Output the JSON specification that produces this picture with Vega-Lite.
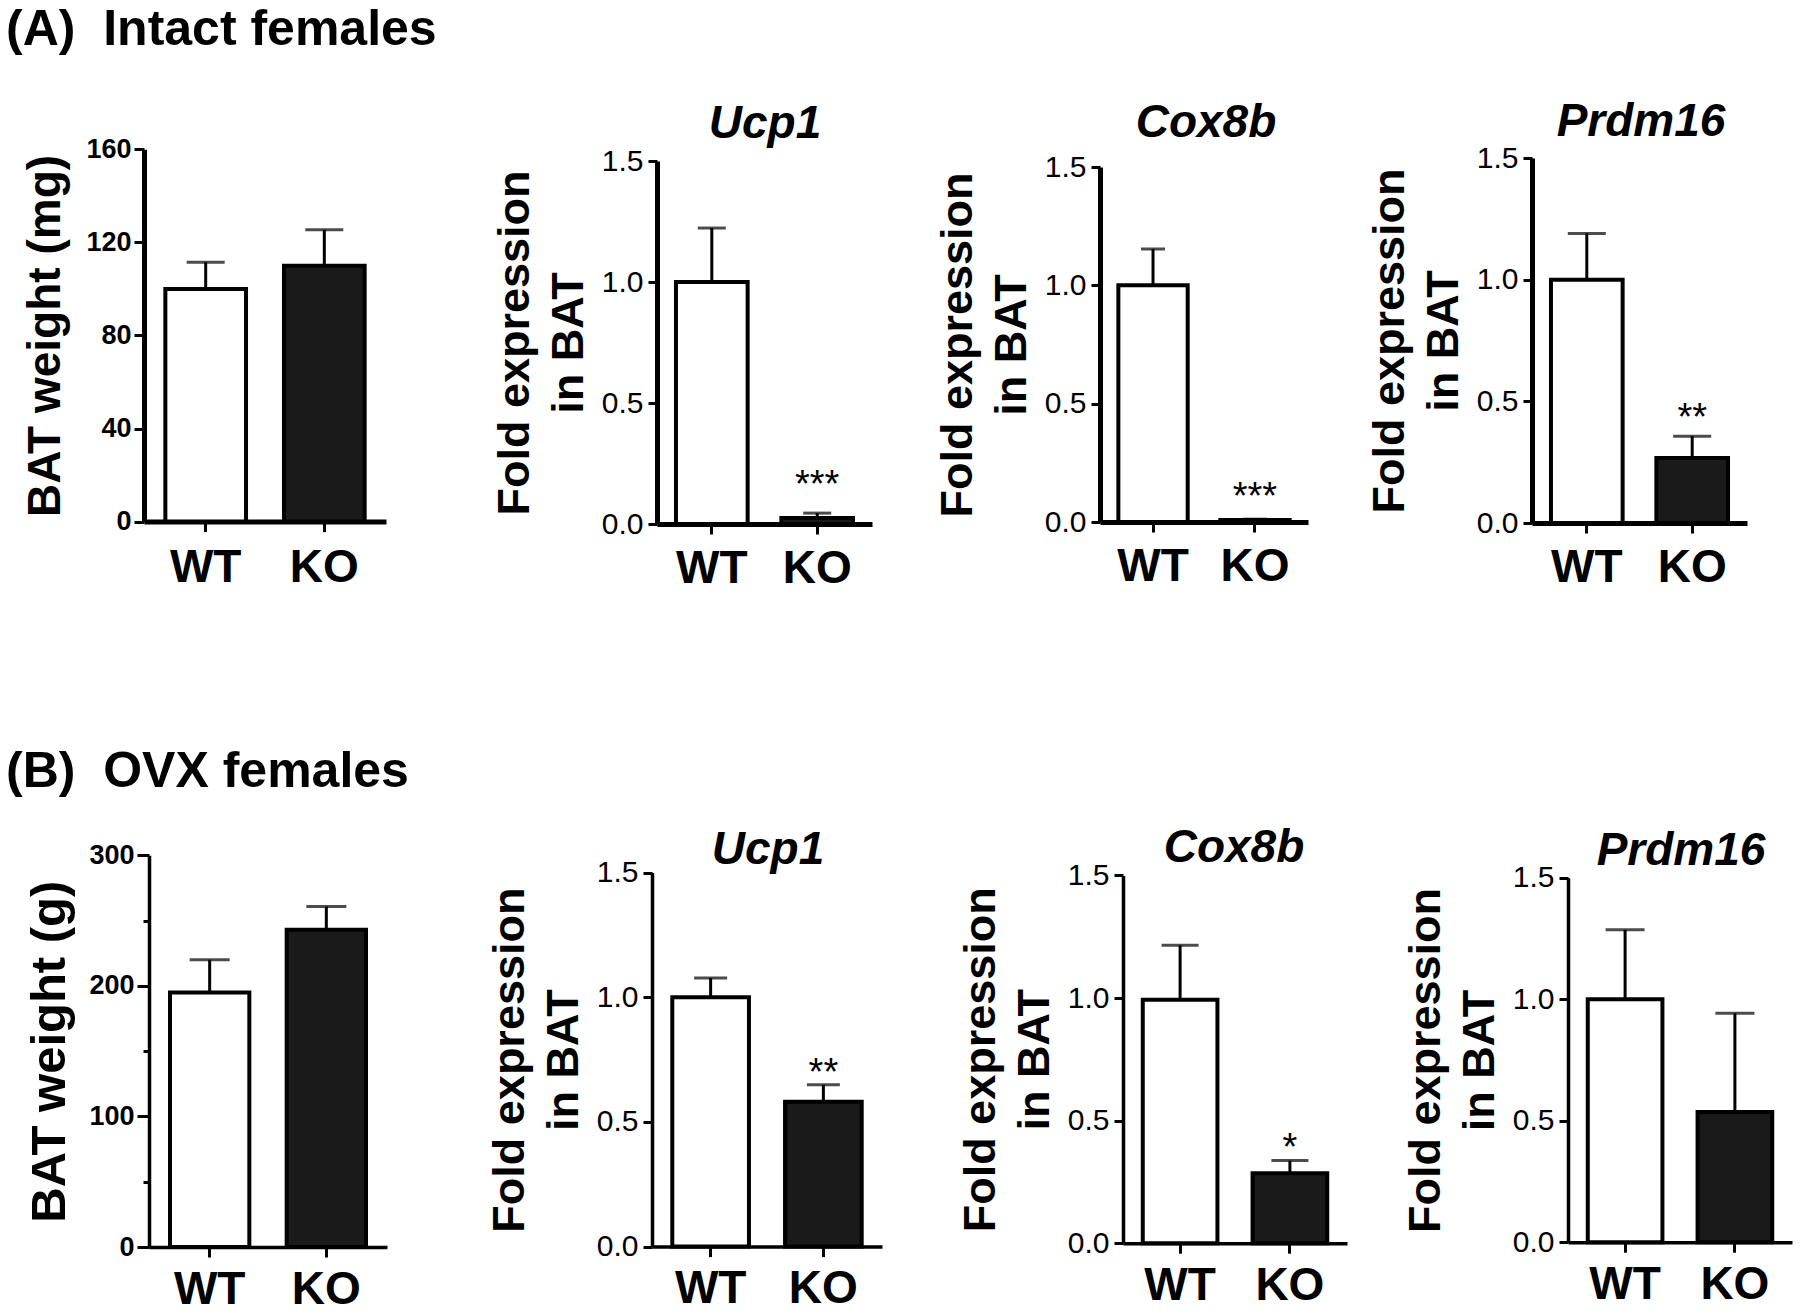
{
  "$schema": "https://vega.github.io/schema/vega-lite/v6.json",
  "background": "white",
  "padding": 0,
  "columns": 4,
  "spacing": 0,
  "bounds": "flush",
  "datasets": {
    "d": [
      {"panel": "A1", "group": "WT", "mean": 100, "upper": 111.5, "sig": ""},
      {"panel": "A1", "group": "KO", "mean": 110, "upper": 125.4, "sig": ""},
      {"panel": "A2", "group": "WT", "mean": 1.0, "upper": 1.223, "sig": ""},
      {"panel": "A2", "group": "KO", "mean": 0.025, "upper": 0.045, "sig": "***"},
      {"panel": "A3", "group": "WT", "mean": 1.0, "upper": 1.153, "sig": ""},
      {"panel": "A3", "group": "KO", "mean": 0.008, "upper": 0.012, "sig": "***"},
      {"panel": "A4", "group": "WT", "mean": 1.0, "upper": 1.19, "sig": ""},
      {"panel": "A4", "group": "KO", "mean": 0.267, "upper": 0.357, "sig": "**"},
      {"panel": "B1", "group": "WT", "mean": 195, "upper": 220, "sig": ""},
      {"panel": "B1", "group": "KO", "mean": 243, "upper": 260.7, "sig": ""},
      {"panel": "B2", "group": "WT", "mean": 1.0, "upper": 1.077, "sig": ""},
      {"panel": "B2", "group": "KO", "mean": 0.581, "upper": 0.649, "sig": "**"},
      {"panel": "B3", "group": "WT", "mean": 0.993, "upper": 1.215, "sig": ""},
      {"panel": "B3", "group": "KO", "mean": 0.285, "upper": 0.337, "sig": "*"},
      {"panel": "B4", "group": "WT", "mean": 1.0, "upper": 1.286, "sig": ""},
      {"panel": "B4", "group": "KO", "mean": 0.536, "upper": 0.942, "sig": ""}
    ]
  },
  "concat": [
    {
      "width": 450, "height": 657,
      "title": {"text": "(A)\u00a0\u00a0Intact females", "anchor": "start", "frame": "group", "offset": 0, "dx": 6, "dy": 95, "fontSize": 50, "fontWeight": "bold", "baseline": "alphabetic"},
      "data": {"name": "d"},
      "transform": [{"filter": "datum.panel === 'A1'"}],
      "encoding": {"x": {"field": "group", "type": "nominal", "sort": ["WT", "KO"], "scale": {"type": "band", "domain": ["WT", "KO"], "range": [144, 386], "paddingInner": 0.32, "paddingOuter": 0.18}, "axis": {"title": null, "offset": -135.4, "labelAngle": 0, "labelFontSize": 46, "labelFontWeight": "bold", "labelPadding": 14, "tickSize": 10, "tickWidth": 3, "domainWidth": 5}}},
      "layer": [
        {"mark": {"type": "bar", "stroke": "black", "strokeWidth": 4}, "encoding": {"y": {"field": "mean", "type": "quantitative", "scale": {"domain": [0, 160], "range": [521.6, 149.3], "nice": false}, "axis": {"title": "BAT weight (mg)", "offset": -144, "values": [0, 40, 80, 120, 160], "labelFontSize": 27, "labelFontWeight": "bold", "labelPadding": 3, "tickSize": 10, "tickWidth": 3, "domainWidth": 5, "titleFontSize": 46, "titleFontWeight": "bold", "titlePadding": 16}}, "fill": {"field": "group", "type": "nominal", "scale": {"domain": ["WT", "KO"], "range": ["white", "#1a1a1a"]}, "legend": null}}},
        {"mark": {"type": "rule", "strokeWidth": 3, "color": "black"}, "encoding": {"y": {"field": "mean", "type": "quantitative"}, "y2": {"field": "upper"}}},
        {"mark": {"type": "tick", "orient": "horizontal", "thickness": 3, "size": 38, "color": "black"}, "encoding": {"y": {"field": "upper", "type": "quantitative"}}}
      ]
    },
    {
      "width": 450, "height": 657,
      "title": {"text": "Ucp1", "anchor": "middle", "frame": "group", "offset": 0, "dx": 90, "dy": 184, "fontSize": 46, "fontWeight": "bold", "fontStyle": "italic", "baseline": "alphabetic"},
      "data": {"name": "d"},
      "transform": [{"filter": "datum.panel === 'A2'"}],
      "encoding": {"x": {"field": "group", "type": "nominal", "sort": ["WT", "KO"], "scale": {"type": "band", "domain": ["WT", "KO"], "range": [207, 422], "paddingInner": 0.32, "paddingOuter": 0.18}, "axis": {"title": null, "offset": -133, "labelAngle": 0, "labelFontSize": 46, "labelFontWeight": "bold", "labelPadding": 12, "tickSize": 10, "tickWidth": 3, "domainWidth": 5}}},
      "layer": [
        {"mark": {"type": "bar", "stroke": "black", "strokeWidth": 4}, "encoding": {"y": {"field": "mean", "type": "quantitative", "scale": {"domain": [0, 1.5], "range": [524, 161], "nice": false}, "axis": {"title": ["Fold expression", "in BAT"], "offset": -207, "values": [0, 0.5, 1, 1.5], "format": ".1f", "labelFontSize": 30, "labelPadding": 5, "tickSize": 9, "tickWidth": 3, "domainWidth": 5, "titleFontSize": 45, "titleFontWeight": "bold", "titlePadding": 10, "titleLineHeight": 54}}, "fill": {"field": "group", "type": "nominal", "scale": {"domain": ["WT", "KO"], "range": ["white", "#1a1a1a"]}, "legend": null}}},
        {"mark": {"type": "rule", "strokeWidth": 3, "color": "black"}, "encoding": {"y": {"field": "mean", "type": "quantitative"}, "y2": {"field": "upper"}}},
        {"mark": {"type": "tick", "orient": "horizontal", "thickness": 3, "size": 28, "color": "black"}, "encoding": {"y": {"field": "upper", "type": "quantitative"}}},
        {"transform": [{"filter": "datum.sig !== ''"}], "mark": {"type": "text", "fontSize": 38, "baseline": "alphabetic", "dy": -16, "color": "black"}, "encoding": {"y": {"field": "upper", "type": "quantitative"}, "text": {"field": "sig"}}}
      ]
    },
    {
      "width": 450, "height": 657,
      "title": {"text": "Cox8b", "anchor": "middle", "frame": "group", "offset": 0, "dx": 81, "dy": 183, "fontSize": 46, "fontWeight": "bold", "fontStyle": "italic", "baseline": "alphabetic"},
      "data": {"name": "d"},
      "transform": [{"filter": "datum.panel === 'A3'"}],
      "encoding": {"x": {"field": "group", "type": "nominal", "sort": ["WT", "KO"], "scale": {"type": "band", "domain": ["WT", "KO"], "range": [200, 408], "paddingInner": 0.32, "paddingOuter": 0.18}, "axis": {"title": null, "offset": -135, "labelAngle": 0, "labelFontSize": 46, "labelFontWeight": "bold", "labelPadding": 12, "tickSize": 10, "tickWidth": 3, "domainWidth": 5}}},
      "layer": [
        {"mark": {"type": "bar", "stroke": "black", "strokeWidth": 4}, "encoding": {"y": {"field": "mean", "type": "quantitative", "scale": {"domain": [0, 1.5], "range": [522, 167], "nice": false}, "axis": {"title": ["Fold expression", "in BAT"], "offset": -200, "values": [0, 0.5, 1, 1.5], "format": ".1f", "labelFontSize": 30, "labelPadding": 5, "tickSize": 9, "tickWidth": 3, "domainWidth": 5, "titleFontSize": 45, "titleFontWeight": "bold", "titlePadding": 10, "titleLineHeight": 54}}, "fill": {"field": "group", "type": "nominal", "scale": {"domain": ["WT", "KO"], "range": ["white", "#1a1a1a"]}, "legend": null}}},
        {"mark": {"type": "rule", "strokeWidth": 3, "color": "black"}, "encoding": {"y": {"field": "mean", "type": "quantitative"}, "y2": {"field": "upper"}}},
        {"mark": {"type": "tick", "orient": "horizontal", "thickness": 3, "size": 24, "color": "black"}, "encoding": {"y": {"field": "upper", "type": "quantitative"}}},
        {"transform": [{"filter": "datum.sig !== ''"}], "mark": {"type": "text", "fontSize": 38, "baseline": "alphabetic", "dy": -10, "color": "black"}, "encoding": {"y": {"field": "upper", "type": "quantitative"}, "text": {"field": "sig"}}}
      ]
    },
    {
      "width": 450, "height": 657,
      "title": {"text": "Prdm16", "anchor": "middle", "frame": "group", "offset": 0, "dx": 66, "dy": 182, "fontSize": 46, "fontWeight": "bold", "fontStyle": "italic", "baseline": "alphabetic"},
      "data": {"name": "d"},
      "transform": [{"filter": "datum.panel === 'A4'"}],
      "encoding": {"x": {"field": "group", "type": "nominal", "sort": ["WT", "KO"], "scale": {"type": "band", "domain": ["WT", "KO"], "range": [182, 397], "paddingInner": 0.32, "paddingOuter": 0.18}, "axis": {"title": null, "offset": -134, "labelAngle": 0, "labelFontSize": 46, "labelFontWeight": "bold", "labelPadding": 12, "tickSize": 10, "tickWidth": 3, "domainWidth": 5}}},
      "layer": [
        {"mark": {"type": "bar", "stroke": "black", "strokeWidth": 4}, "encoding": {"y": {"field": "mean", "type": "quantitative", "scale": {"domain": [0, 1.5], "range": [523, 158], "nice": false}, "axis": {"title": ["Fold expression", "in BAT"], "offset": -182, "values": [0, 0.5, 1, 1.5], "format": ".1f", "labelFontSize": 30, "labelPadding": 5, "tickSize": 9, "tickWidth": 3, "domainWidth": 5, "titleFontSize": 45, "titleFontWeight": "bold", "titlePadding": 10, "titleLineHeight": 54}}, "fill": {"field": "group", "type": "nominal", "scale": {"domain": ["WT", "KO"], "range": ["white", "#1a1a1a"]}, "legend": null}}},
        {"mark": {"type": "rule", "strokeWidth": 3, "color": "black"}, "encoding": {"y": {"field": "mean", "type": "quantitative"}, "y2": {"field": "upper"}}},
        {"mark": {"type": "tick", "orient": "horizontal", "thickness": 3, "size": 38, "color": "black"}, "encoding": {"y": {"field": "upper", "type": "quantitative"}}},
        {"transform": [{"filter": "datum.sig !== ''"}], "mark": {"type": "text", "fontSize": 38, "baseline": "alphabetic", "dy": -6, "color": "black"}, "encoding": {"y": {"field": "upper", "type": "quantitative"}, "text": {"field": "sig"}}}
      ]
    },
    {
      "width": 450, "height": 657,
      "title": {"text": "(B)\u00a0\u00a0OVX females", "anchor": "start", "frame": "group", "offset": 0, "dx": 6, "dy": 180, "fontSize": 50, "fontWeight": "bold", "baseline": "alphabetic"},
      "data": {"name": "d"},
      "transform": [{"filter": "datum.panel === 'B1'"}],
      "encoding": {"x": {"field": "group", "type": "nominal", "sort": ["WT", "KO"], "scale": {"type": "band", "domain": ["WT", "KO"], "range": [149, 387], "paddingInner": 0.32, "paddingOuter": 0.18}, "axis": {"title": null, "offset": -67, "labelAngle": 0, "labelFontSize": 46, "labelFontWeight": "bold", "labelPadding": 10, "tickSize": 10, "tickWidth": 3, "domainWidth": 3.5}}},
      "layer": [
        {"mark": {"type": "bar", "stroke": "black", "strokeWidth": 4}, "encoding": {"y": {"field": "mean", "type": "quantitative", "scale": {"domain": [0, 300], "range": [590, 198.3], "nice": false}, "axis": {"title": "BAT weight (g)", "offset": -149, "values": [0, 50, 100, 150, 200, 250, 300], "labelExpr": "datum.value % 100 === 0 ? datum.label : ''", "labelFontSize": 27, "labelFontWeight": "bold", "labelPadding": 3, "tickSize": {"condition": {"test": "datum.value % 100 !== 0", "value": 6}, "value": 12}, "tickWidth": 3, "domainWidth": 3.5, "titleFontSize": 49, "titleFontWeight": "bold", "titlePadding": 14}}, "fill": {"field": "group", "type": "nominal", "scale": {"domain": ["WT", "KO"], "range": ["white", "#1a1a1a"]}, "legend": null}}},
        {"mark": {"type": "rule", "strokeWidth": 3, "color": "black"}, "encoding": {"y": {"field": "mean", "type": "quantitative"}, "y2": {"field": "upper"}}},
        {"mark": {"type": "tick", "orient": "horizontal", "thickness": 3, "size": 40, "color": "black"}, "encoding": {"y": {"field": "upper", "type": "quantitative"}}}
      ]
    },
    {
      "width": 450, "height": 657,
      "title": {"text": "Ucp1", "anchor": "middle", "frame": "group", "offset": 0, "dx": 93, "dy": 253, "fontSize": 46, "fontWeight": "bold", "fontStyle": "italic", "baseline": "alphabetic"},
      "data": {"name": "d"},
      "transform": [{"filter": "datum.panel === 'B2'"}],
      "encoding": {"x": {"field": "group", "type": "nominal", "sort": ["WT", "KO"], "scale": {"type": "band", "domain": ["WT", "KO"], "range": [202, 432], "paddingInner": 0.32, "paddingOuter": 0.18}, "axis": {"title": null, "offset": -67.4, "labelAngle": 0, "labelFontSize": 46, "labelFontWeight": "bold", "labelPadding": 10, "tickSize": 10, "tickWidth": 3, "domainWidth": 3.5}}},
      "layer": [
        {"mark": {"type": "bar", "stroke": "black", "strokeWidth": 4}, "encoding": {"y": {"field": "mean", "type": "quantitative", "scale": {"domain": [0, 1.5], "range": [589.6, 215.6], "nice": false}, "axis": {"title": ["Fold expression", "in BAT"], "offset": -202, "values": [0, 0.5, 1, 1.5], "format": ".1f", "labelFontSize": 30, "labelPadding": 5, "tickSize": 9, "tickWidth": 3, "domainWidth": 3.5, "titleFontSize": 45, "titleFontWeight": "bold", "titlePadding": 10, "titleLineHeight": 54}}, "fill": {"field": "group", "type": "nominal", "scale": {"domain": ["WT", "KO"], "range": ["white", "#1a1a1a"]}, "legend": null}}},
        {"mark": {"type": "rule", "strokeWidth": 3, "color": "black"}, "encoding": {"y": {"field": "mean", "type": "quantitative"}, "y2": {"field": "upper"}}},
        {"mark": {"type": "tick", "orient": "horizontal", "thickness": 3, "size": 33, "color": "black"}, "encoding": {"y": {"field": "upper", "type": "quantitative"}}},
        {"transform": [{"filter": "datum.sig !== ''"}], "mark": {"type": "text", "fontSize": 38, "baseline": "alphabetic", "dy": 0, "color": "black"}, "encoding": {"y": {"field": "upper", "type": "quantitative"}, "text": {"field": "sig"}}}
      ]
    },
    {
      "width": 450, "height": 657,
      "title": {"text": "Cox8b", "anchor": "middle", "frame": "group", "offset": 0, "dx": 109, "dy": 251, "fontSize": 46, "fontWeight": "bold", "fontStyle": "italic", "baseline": "alphabetic"},
      "data": {"name": "d"},
      "transform": [{"filter": "datum.panel === 'B3'"}],
      "encoding": {"x": {"field": "group", "type": "nominal", "sort": ["WT", "KO"], "scale": {"type": "band", "domain": ["WT", "KO"], "range": [223, 447], "paddingInner": 0.32, "paddingOuter": 0.18}, "axis": {"title": null, "offset": -70.8, "labelAngle": 0, "labelFontSize": 46, "labelFontWeight": "bold", "labelPadding": 10, "tickSize": 10, "tickWidth": 3, "domainWidth": 3.5}}},
      "layer": [
        {"mark": {"type": "bar", "stroke": "black", "strokeWidth": 4}, "encoding": {"y": {"field": "mean", "type": "quantitative", "scale": {"domain": [0, 1.5], "range": [586.2, 218.4], "nice": false}, "axis": {"title": ["Fold expression", "in BAT"], "offset": -223, "values": [0, 0.5, 1, 1.5], "format": ".1f", "labelFontSize": 30, "labelPadding": 5, "tickSize": 9, "tickWidth": 3, "domainWidth": 3.5, "titleFontSize": 45, "titleFontWeight": "bold", "titlePadding": 10, "titleLineHeight": 54}}, "fill": {"field": "group", "type": "nominal", "scale": {"domain": ["WT", "KO"], "range": ["white", "#1a1a1a"]}, "legend": null}}},
        {"mark": {"type": "rule", "strokeWidth": 3, "color": "black"}, "encoding": {"y": {"field": "mean", "type": "quantitative"}, "y2": {"field": "upper"}}},
        {"mark": {"type": "tick", "orient": "horizontal", "thickness": 3, "size": 37, "color": "black"}, "encoding": {"y": {"field": "upper", "type": "quantitative"}}},
        {"transform": [{"filter": "datum.sig !== ''"}], "mark": {"type": "text", "fontSize": 38, "baseline": "alphabetic", "dy": -1, "color": "black"}, "encoding": {"y": {"field": "upper", "type": "quantitative"}, "text": {"field": "sig"}}}
      ]
    },
    {
      "width": 450, "height": 657,
      "title": {"text": "Prdm16", "anchor": "middle", "frame": "group", "offset": 0, "dx": 106, "dy": 254, "fontSize": 46, "fontWeight": "bold", "fontStyle": "italic", "baseline": "alphabetic"},
      "data": {"name": "d"},
      "transform": [{"filter": "datum.panel === 'B4'"}],
      "encoding": {"x": {"field": "group", "type": "nominal", "sort": ["WT", "KO"], "scale": {"type": "band", "domain": ["WT", "KO"], "range": [218, 442], "paddingInner": 0.32, "paddingOuter": 0.18}, "axis": {"title": null, "offset": -71.8, "labelAngle": 0, "labelFontSize": 46, "labelFontWeight": "bold", "labelPadding": 10, "tickSize": 10, "tickWidth": 3, "domainWidth": 3.5}}},
      "layer": [
        {"mark": {"type": "bar", "stroke": "black", "strokeWidth": 4}, "encoding": {"y": {"field": "mean", "type": "quantitative", "scale": {"domain": [0, 1.5], "range": [585.2, 220.8], "nice": false}, "axis": {"title": ["Fold expression", "in BAT"], "offset": -218, "values": [0, 0.5, 1, 1.5], "format": ".1f", "labelFontSize": 30, "labelPadding": 5, "tickSize": 9, "tickWidth": 3, "domainWidth": 3.5, "titleFontSize": 45, "titleFontWeight": "bold", "titlePadding": 10, "titleLineHeight": 54}}, "fill": {"field": "group", "type": "nominal", "scale": {"domain": ["WT", "KO"], "range": ["white", "#1a1a1a"]}, "legend": null}}},
        {"mark": {"type": "rule", "strokeWidth": 3, "color": "black"}, "encoding": {"y": {"field": "mean", "type": "quantitative"}, "y2": {"field": "upper"}}},
        {"mark": {"type": "tick", "orient": "horizontal", "thickness": 3, "size": 39, "color": "black"}, "encoding": {"y": {"field": "upper", "type": "quantitative"}}}
      ]
    }
  ],
  "config": {
    "font": "Liberation Sans",
    "view": {"stroke": null},
    "axis": {"grid": false, "domainColor": "black", "tickColor": "black", "labelColor": "black", "titleColor": "black", "labelFont": "Liberation Sans", "titleFont": "Liberation Sans", "labelOverlap": false},
    "title": {"color": "black", "font": "Liberation Sans"},
    "text": {"font": "Liberation Sans"}
  }
}
